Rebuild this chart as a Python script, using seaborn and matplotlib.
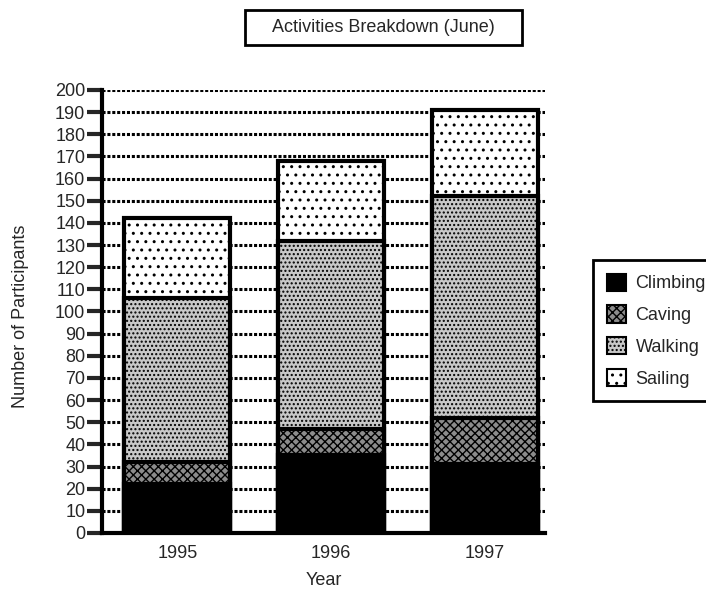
import matplotlib
matplotlib.use("Agg")
import matplotlib.pyplot as plt
import matplotlib.patches as mpatches
import numpy as np
import pandas as pd
import seaborn as sns

years = ["1995", "1996", "1997"]
activities = ["Climbing", "Caving", "Walking", "Sailing"]
climbing = [22, 35, 31]
caving = [10, 12, 21]
walking = [74, 85, 100]
sailing = [36, 36, 39]

sns.set_style("white")
plt.rcParams["font.family"] = ["Liberation Sans", "DejaVu Sans"]
plt.rcParams["hatch.linewidth"] = 1.0
FS = 13

styles = {
    "Climbing": dict(facecolor="black", hatch=None),
    "Caving": dict(facecolor="#8c8c8c", hatch="xxxx"),
    "Walking": dict(facecolor="#c8c8c8", hatch="...."),
    "Sailing": dict(facecolor="white", hatch=".."),
}

fig = plt.figure(figsize=(7.06, 5.92), dpi=100)
ax = fig.add_axes([0.1445, 0.0997, 0.6275, 0.7483])

series = {"Climbing": climbing, "Caving": caving, "Walking": walking, "Sailing": sailing}
df = pd.DataFrame(series, index=years)
cum = df.cumsum(axis=1)

# draw cumulative totals from the top down so they look stacked
for act in reversed(activities):
    d = pd.DataFrame({"Year": years, "Total": cum[act].values})
    st = styles[act]
    sns.barplot(data=d, x="Year", y="Total", ax=ax, color=st["facecolor"],
                saturation=1, width=0.69, edgecolor="black", linewidth=3,
                hatch=st["hatch"], zorder=3)

ax.set_ylim(0, 200)
ax.set_xlim(-0.49, 2.39)
ax.set_yticks(np.arange(0, 201, 10))
ax.yaxis.grid(True, color="black", linestyle=(0, (1, 0.6)), linewidth=2.2, zorder=0)
ax.xaxis.grid(False)
ax.set_axisbelow(True)

for s in ["top", "right"]:
    ax.spines[s].set_visible(False)
for s in ["left", "bottom"]:
    ax.spines[s].set_linewidth(3)
    ax.spines[s].set_color("black")

ax.tick_params(axis="y", direction="out", length=11, width=3, labelsize=FS, pad=1, left=True)
ax.tick_params(axis="x", length=0, labelsize=FS, pad=9)
ax.set_xlabel("Year", fontsize=FS, labelpad=7)
ax.set_ylabel("Number of Participants", fontsize=FS)
ax.yaxis.set_label_coords(-0.165, 0.49)

# boxed title
fig.patches.append(mpatches.Rectangle((245 / 706, 1 - 45 / 592), 277 / 706, 35 / 592,
                                      transform=fig.transFigure, facecolor="white",
                                      edgecolor="black", linewidth=2))
fig.text(383.5 / 706, 1 - 27.5 / 592, "Activities Breakdown (June)", ha="center", va="center",
         fontsize=FS)

handles = [mpatches.Patch(facecolor=styles[a]["facecolor"], hatch=styles[a]["hatch"],
                          edgecolor="black", linewidth=1.5, label=a) for a in activities]
leg = fig.legend(handles=handles, loc="upper left", bbox_to_anchor=(593 / 706, 1 - 260 / 592),
                 frameon=True, fancybox=False, framealpha=1, fontsize=FS,
                 handlelength=1.1, handleheight=1.1,
                 labelspacing=0.72, borderpad=0.75, handletextpad=0.5, borderaxespad=0)
leg.get_frame().set_edgecolor("black")
leg.get_frame().set_linewidth(2)

fig.savefig("out.png", dpi=100)
